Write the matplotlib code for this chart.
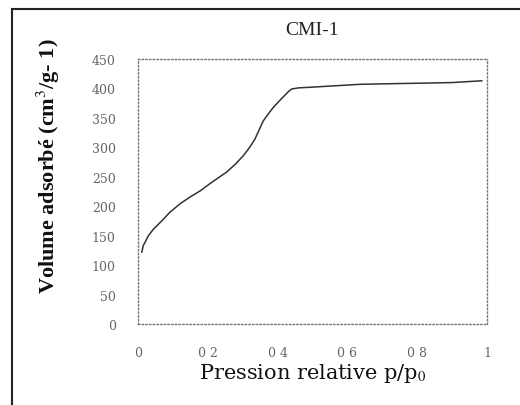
import matplotlib.pyplot as plt
from matplotlib.patches import Rectangle

# isotherm
p_rel = [0.011, 0.015, 0.03, 0.044, 0.068, 0.09, 0.12, 0.15, 0.178, 0.21, 0.254,
         0.28, 0.302, 0.32, 0.335, 0.359, 0.375, 0.388, 0.41, 0.43, 0.44,
         0.46, 0.493, 0.55, 0.636, 0.72, 0.817, 0.9, 0.985]
volume = [122, 133, 150, 161, 175, 189, 204, 216, 226, 240, 258,
          272, 286, 300, 314, 345, 358, 368, 382, 394, 399,
          401, 402, 404, 407, 408, 409, 410, 413]

x_ticks = [0, 0.2, 0.4, 0.6, 0.8, 1]
x_labels = ['0', '0 2', '0 4', '0 6', '0 8', '1']
y_ticks = [0, 50, 100, 150, 200, 250, 300, 350, 400, 450]

plt.rcParams['font.family'] = ['Liberation Serif', 'DejaVu Serif']
plt.rcParams['mathtext.fontset'] = 'stix'

fig = plt.figure(figsize=(5.2, 4.06), dpi=100)
W, H = 520, 406
ax = fig.add_axes([138 / W, 1 - 325 / H, (487 - 138) / W, (325 - 60) / H])

# outer frame of the figure panel (cut off on right and bottom)
fig.patches.append(Rectangle((12 / W, -0.05), 1.05, 1 - 10 / H + 0.05,
                             transform=fig.transFigure, fill=False,
                             edgecolor='#222222', linewidth=1.5))

ax.plot(p_rel, volume, color='#333333', linewidth=1.1)

ax.set_xlim(0, 1)
ax.set_ylim(0, 450)
ax.set_xticks(x_ticks)
ax.set_xticklabels(x_labels)
ax.set_yticks(y_ticks)
ax.tick_params(length=0, labelsize=9, colors='#666666')
for lab in ax.get_xticklabels() + ax.get_yticklabels():
    lab.set_family('DejaVu Serif')
ax.tick_params(axis='x', pad=16)
ax.tick_params(axis='y', pad=16)
for s in ax.spines.values():
    s.set_linestyle(':')
    s.set_color('#777777')
    s.set_linewidth(1.0)

ax.set_title('CMI-1', fontsize=14, pad=18, color='#222222')
ax.set_xlabel('Pression relative p/p$_0$', fontsize=15, color='#111111',
              family='DejaVu Serif')
ax.xaxis.set_label_coords(0.5, -0.14)
ax.set_ylabel('Volume adsorbé (cm$^3$/g- 1)', fontsize=16, fontweight='bold',
              color='#111111')
ax.yaxis.set_label_coords(-0.218, 0.6)

fig.savefig('out.png', dpi=100)
